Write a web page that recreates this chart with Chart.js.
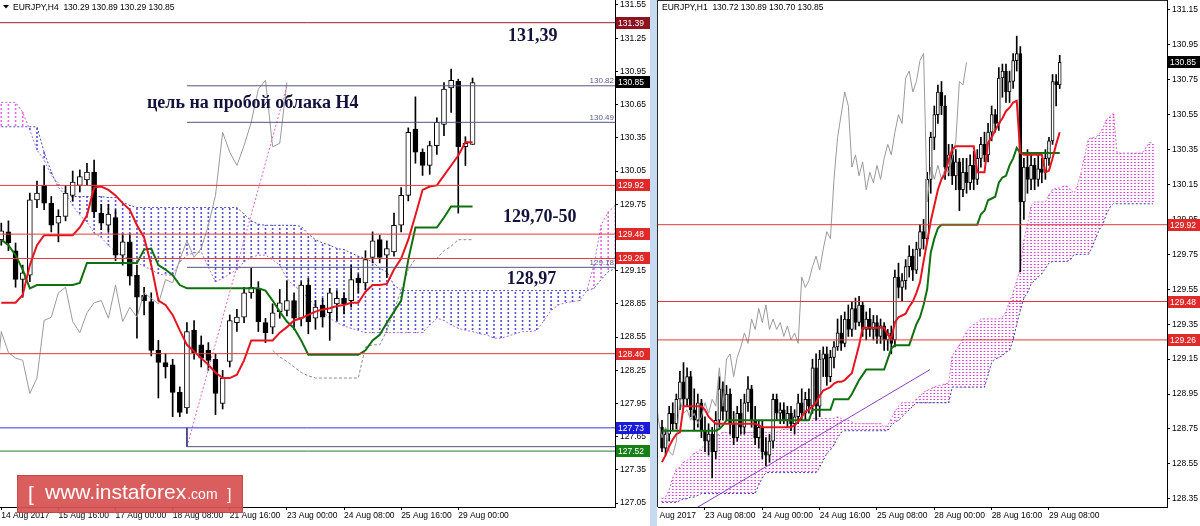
<!DOCTYPE html>
<html><head><meta charset="utf-8"><title>EURJPY H4 / H1</title>
<script src="https://cdn.jsdelivr.net/npm/chart.js@4.4.1/dist/chart.umd.min.js"></script>
<style>
html,body{margin:0;padding:0;background:#fff;}
body{width:1200px;height:526px;position:relative;overflow:hidden;}
canvas{position:absolute;top:0;}
#h4{left:0;width:650px;height:526px;}
#h1{left:650px;width:550px;height:526px;}
</style></head>
<body>
<canvas id="h4" width="650" height="526"></canvas>
<canvas id="h1" width="550" height="526"></canvas>
<script>
// ===================== H4 DATA =====================
const h4TickIdx = [0, 8, 16, 24, 32, 40, 48, 56, 64];
const h4TickLabels = ['14 Aug 2017','15 Aug 16:00','17 Aug 00:00','18 Aug 08:00','21 Aug 16:00','23 Aug 00:00','24 Aug 08:00','25 Aug 16:00','29 Aug 00:00'];
const h4YTicks = [131.55,131.25,130.95,130.65,130.35,130.05,129.75,129.45,129.15,128.85,128.55,128.25,127.95,127.65,127.35,127.05];
const h4Open = [129.43,129.50,129.33,129.07,129.11,129.79,129.92,129.76,129.58,129.64,
 129.83,129.92,129.97,130.04,129.67,129.56,129.63,129.29,129.41,129.11,
 128.93,128.87,128.43,128.32,128.30,128.05,127.91,128.61,128.48,128.43,
 128.35,127.95,128.33,128.68,128.73,128.95,128.99,128.68,128.64,128.78,
 128.79,128.88,128.72,129.02,128.72,128.84,128.77,128.85,128.90,128.88,
 129.08,129.04,129.27,129.43,129.29,129.32,129.56,129.83,130.43,130.22,
 130.10,130.28,130.47,130.80,130.86,130.27,130.29];
const h4High = [129.58,129.60,129.40,129.20,129.85,129.96,130.10,129.82,129.70,129.92,
 130.05,130.06,130.12,130.15,129.75,129.75,129.70,129.48,129.48,129.20,
 129.00,128.95,128.52,128.40,128.35,128.10,128.68,128.70,128.56,128.50,
 128.40,128.25,128.75,128.80,129.00,129.17,129.05,128.72,128.85,128.98,
 129.06,128.95,129.05,129.08,128.88,128.90,128.99,128.97,128.95,129.20,
 129.12,129.33,129.50,129.47,129.42,129.67,129.90,130.44,130.72,130.25,
 130.32,130.53,130.85,130.97,130.88,130.36,130.89];
const h4Low = [129.38,129.33,129.00,128.91,129.05,129.72,129.70,129.50,129.41,129.60,
 129.78,129.86,129.92,129.63,129.52,129.50,129.24,129.20,129.02,128.54,
 128.75,128.38,128.00,128.18,127.83,127.83,127.86,128.35,128.28,128.25,
 127.85,127.90,128.28,128.60,128.68,128.90,128.60,128.50,128.58,128.72,
 128.74,128.62,128.65,128.58,128.62,128.64,128.52,128.70,128.76,128.82,
 128.95,128.98,129.22,129.22,129.09,129.28,129.50,129.78,130.12,130.01,
 130.02,130.20,130.37,130.58,129.67,130.10,130.29];
const h4Close = [129.51,129.40,129.07,129.13,129.79,129.85,129.76,129.56,129.64,129.85,
 129.95,130.00,130.04,129.68,129.58,129.66,129.29,129.41,129.10,128.91,
 128.88,128.43,128.32,128.28,128.05,127.87,128.60,128.41,128.36,128.34,
 128.04,128.18,128.70,128.73,128.95,129.00,128.69,128.59,128.77,128.86,
 128.88,128.72,129.02,128.69,128.82,128.73,128.95,128.90,128.85,129.07,
 129.04,129.25,129.42,129.27,129.35,129.56,129.83,130.40,130.22,130.10,
 130.28,130.49,130.79,130.87,130.27,130.30,130.85];
const h4Tenkan = [128.86,128.86,128.86,128.93,129.20,129.38,129.47,129.47,129.47,129.47,
 129.47,129.54,129.65,129.90,129.91,129.88,129.83,129.76,129.70,129.56,
 129.45,129.20,128.88,128.84,128.75,128.61,128.48,128.42,128.36,128.30,
 128.23,128.18,128.18,128.21,128.34,128.52,128.52,128.52,128.52,128.59,
 128.64,128.70,128.72,128.75,128.78,128.80,128.81,128.83,128.84,128.86,
 128.86,128.96,129.02,129.02,129.03,129.16,129.26,129.43,129.65,129.88,
 129.91,129.92,130.01,130.10,130.19,130.31,130.31];
const h4Kijun = [129.43,129.38,129.29,129.16,128.99,129.02,129.02,129.02,129.02,129.02,
 129.02,129.04,129.22,129.22,129.22,129.22,129.22,129.22,129.22,129.22,
 129.34,129.35,129.20,129.16,129.11,129.02,128.99,128.99,128.99,128.99,
 128.99,128.99,128.99,128.99,128.99,128.99,128.99,128.97,128.88,128.78,
 128.69,128.63,128.52,128.39,128.39,128.39,128.39,128.39,128.39,128.39,
 128.39,128.43,128.52,128.57,128.68,128.78,128.88,129.25,129.54,129.54,
 129.54,129.54,129.63,129.73,129.73,129.73,129.73];
const h4SpanA = [130.67,130.67,130.67,130.58,130.42,130.24,130.15,130.01,129.94,129.85,
 129.74,129.65,129.59,129.49,129.45,129.38,129.32,129.28,129.26,129.22,
 129.19,129.16,129.12,129.11,129.11,129.23,129.29,129.31,129.32,129.18,
 129.05,129.08,129.12,129.16,129.23,129.27,129.29,129.29,129.25,129.20,
 129.08,129.01,128.97,128.90,128.83,128.78,128.72,128.68,128.65,128.63,
 128.61,128.59,128.59,128.59,128.59,128.59,128.59,128.59,128.59,128.59,
 128.66,128.72,128.70,128.66,128.63,128.61,128.60,128.58,128.57,128.54,
 128.54,128.56,128.58,128.60,128.60,128.61,128.70,128.79,128.84,128.86,
 128.87,128.88,128.97,129.20,129.56,129.68,129.74];
const h4SpanB = [130.45,130.45,130.45,130.45,130.45,130.45,130.22,130.04,129.90,129.83,
 129.82,129.82,129.82,129.82,129.82,129.81,129.81,129.77,129.74,129.72,
 129.72,129.72,129.72,129.72,129.72,129.72,129.72,129.72,129.72,129.72,
 129.72,129.72,129.72,129.72,129.66,129.60,129.57,129.56,129.56,129.56,
 129.56,129.56,129.55,129.48,129.43,129.40,129.38,129.35,129.34,129.31,
 129.28,129.26,129.23,129.17,129.14,129.02,128.97,128.97,128.97,128.97,
 128.97,128.97,128.97,128.97,128.97,128.97,128.97,128.97,128.97,128.97,
 128.97,128.97,128.97,128.97,128.97,128.97,128.97,128.97,128.97,128.97,
 128.97,128.97,128.97,128.99,129.07,129.14,129.17];
// gray dashed guide line (bars 38..66)
const h4GuideStart = 38;
const h4Guide = [128.43,128.37,128.33,128.28,128.23,128.20,128.18,128.18,128.18,128.18,
 128.18,128.18,128.18,128.46,128.48,128.48,128.61,128.79,128.97,129.16,
 129.26,129.26,129.26,129.26,129.33,129.37,129.43,129.43,129.43];
const h4FullLevels = [131.39, 129.92, 129.48, 129.26, 128.40, 127.73, 127.52];
const h4FiboLevels = [130.82, 130.49, 129.18, 127.56];
const h4FiboStart = 26;
const h4FiboTrendX = [26, 40];
const h4FiboTrendY = [127.56, 130.82];
const h4Tags = [131.39, 130.85, 129.92, 129.48, 129.26, 128.40, 127.73, 127.52];

// ===================== H1 DATA =====================
const h1TickIdx = [-4, 12, 28, 44, 60, 76, 92, 108];
const h1TickLabels = ['22 Aug 2017','23 Aug 08:00','24 Aug 00:00','24 Aug 16:00','25 Aug 08:00','28 Aug 00:00','28 Aug 16:00','29 Aug 08:00'];
const h1YTicks = [131.15,130.95,130.75,130.55,130.35,130.15,129.95,129.75,129.55,129.35,129.15,128.95,128.75,128.55,128.35];
const h1Open = [128.76,128.64,128.72,128.84,128.78,128.92,129.02,128.92,129.05,128.86,
 128.80,128.90,128.74,128.68,128.72,128.62,128.80,128.98,128.85,128.95,
 128.78,128.70,128.84,128.76,128.90,128.98,128.80,128.70,128.76,128.62,
 128.60,128.68,128.92,128.84,128.86,128.80,128.84,128.78,128.82,128.90,
 128.84,128.92,128.88,129.10,128.88,129.15,129.18,129.05,129.16,129.22,
 129.30,129.24,129.38,129.32,129.44,129.36,129.46,129.32,129.38,129.32,
 129.36,129.28,129.34,129.26,129.30,129.26,129.62,129.56,129.60,129.68,
 129.74,129.66,129.78,129.88,129.84,130.18,130.42,130.55,130.68,130.60,
 130.25,130.32,130.20,130.28,130.12,130.22,130.16,130.26,130.18,130.30,
 130.38,130.32,130.45,130.55,130.50,130.76,130.80,130.68,130.74,130.86,
 130.90,130.05,130.25,130.18,130.26,130.18,130.24,130.22,130.30,130.40,130.74,130.72];
const h1High = [128.80,128.75,128.88,128.90,128.95,129.08,129.13,129.10,129.08,128.98,
 128.95,128.92,128.82,128.78,128.76,128.85,129.05,129.02,129.00,128.98,
 128.85,128.88,128.92,128.95,129.05,129.00,128.88,128.80,128.80,128.70,
 128.72,128.95,128.95,128.90,128.90,128.88,128.88,128.86,128.95,128.98,
 128.96,128.98,129.15,129.18,129.20,129.22,129.22,129.20,129.25,129.38,
 129.40,129.42,129.46,129.48,129.50,129.51,129.48,129.42,129.44,129.40,
 129.40,129.38,129.36,129.32,129.34,129.66,129.70,129.64,129.72,129.80,
 129.78,129.82,129.92,129.95,130.22,130.45,130.60,130.72,130.74,130.66,
 130.38,130.38,130.35,130.30,130.30,130.30,130.32,130.34,130.35,130.42,
 130.45,130.50,130.60,130.58,130.82,130.84,130.84,130.80,130.90,131.00,
 130.94,130.30,130.35,130.32,130.30,130.32,130.30,130.35,130.42,130.78,130.78,130.89];
const h1Low = [128.62,128.60,128.68,128.74,128.75,128.86,128.88,128.88,128.82,128.74,
 128.76,128.70,128.62,128.60,128.47,128.58,128.76,128.80,128.80,128.72,
 128.66,128.68,128.72,128.72,128.85,128.76,128.66,128.64,128.58,128.54,
 128.56,128.64,128.80,128.78,128.78,128.76,128.74,128.72,128.78,128.80,
 128.80,128.84,128.84,128.80,128.82,129.05,129.00,129.02,129.10,129.20,
 129.20,129.22,129.28,129.28,129.32,129.34,129.28,129.26,129.28,129.26,
 129.24,129.24,129.20,129.20,129.18,129.22,129.50,129.48,129.55,129.62,
 129.60,129.64,129.74,129.78,129.82,130.10,130.35,130.50,130.55,130.18,
 130.20,130.15,130.12,130.00,130.08,130.10,130.12,130.12,130.15,130.25,
 130.28,130.28,130.40,130.45,130.46,130.65,130.62,130.62,130.70,130.80,
 129.65,129.95,130.10,130.12,130.12,130.14,130.16,130.18,130.26,130.38,130.60,130.70];
const h1Close = [128.64,128.72,128.84,128.78,128.92,129.02,128.92,129.05,128.86,128.80,
 128.90,128.74,128.68,128.72,128.62,128.80,128.98,128.85,128.95,128.78,
 128.70,128.84,128.76,128.90,128.98,128.80,128.70,128.76,128.62,128.60,
 128.68,128.92,128.84,128.86,128.80,128.84,128.78,128.82,128.90,128.84,
 128.92,128.88,129.10,128.88,129.15,129.18,129.05,129.16,129.22,129.30,
 129.24,129.38,129.32,129.44,129.36,129.46,129.32,129.38,129.32,129.36,
 129.28,129.34,129.26,129.30,129.24,129.62,129.56,129.60,129.68,129.74,
 129.66,129.78,129.88,129.84,130.18,130.42,130.55,130.68,130.60,130.25,
 130.32,130.20,130.28,130.12,130.22,130.16,130.26,130.18,130.30,130.38,
 130.32,130.45,130.55,130.50,130.76,130.80,130.68,130.74,130.86,130.90,
 130.05,130.25,130.18,130.26,130.18,130.24,130.22,130.30,130.40,130.74,130.72,130.85];
const h1Tenkan = [128.56,128.60,128.65,128.69,128.72,128.73,128.88,128.88,128.88,128.88,
 128.88,128.88,128.86,128.82,128.80,128.78,128.78,128.78,128.78,128.78,
 128.78,128.78,128.78,128.78,128.78,128.78,128.78,128.77,128.76,128.76,
 128.76,128.76,128.76,128.76,128.76,128.76,128.76,128.77,128.79,128.82,
 128.85,128.86,128.88,128.90,128.94,128.97,128.98,128.99,129.01,129.02,
 129.02,129.03,129.05,129.07,129.15,129.23,129.33,129.33,129.33,129.33,
 129.33,129.33,129.33,129.29,129.27,129.36,129.39,129.40,129.41,129.45,
 129.48,129.53,129.59,129.71,129.82,129.94,130.03,130.12,130.18,130.21,
 130.29,130.35,130.37,130.37,130.37,130.37,130.37,130.37,130.22,130.22,
 130.22,130.39,130.42,130.46,130.50,130.53,130.57,130.59,130.62,130.63,
 130.33,130.32,130.32,130.32,130.32,130.32,130.32,130.22,130.23,130.30,130.38,130.45];
const h1Kijun = [128.74,128.74,128.74,128.74,128.74,128.74,128.74,128.74,128.74,128.74,
 128.74,128.74,128.74,128.74,128.74,128.74,128.75,128.77,128.80,128.80,
 128.80,128.80,128.80,128.80,128.80,128.80,128.80,128.80,128.80,128.80,
 128.80,128.80,128.80,128.80,128.80,128.80,128.80,128.80,128.80,128.80,
 128.80,128.80,128.86,128.86,128.86,128.86,128.86,128.86,128.92,128.92,
 128.92,128.92,128.92,128.95,128.99,129.03,129.06,129.09,129.09,129.09,
 129.09,129.09,129.09,129.15,129.21,129.23,129.23,129.23,129.23,129.23,
 129.29,129.35,129.39,129.46,129.55,129.76,129.84,129.90,129.92,129.92,
 129.92,129.92,129.92,129.92,129.92,129.92,129.92,129.92,129.92,129.98,
 130.00,130.06,130.07,130.08,130.16,130.19,130.20,130.26,130.30,130.36,
 130.33,130.33,130.33,130.33,130.33,130.33,130.33,130.33,130.33,130.33,130.33,130.33];
const h1SpanA = [128.35,128.36,128.40,128.47,128.52,128.53,128.56,128.57,128.59,128.61,
 128.62,128.64,128.66,128.68,128.70,128.71,128.72,128.73,128.73,128.73,
 128.73,128.73,128.73,128.73,128.73,128.73,128.73,128.73,128.73,128.73,
 128.73,128.73,128.73,128.74,128.76,128.76,128.77,128.78,128.79,128.80,
 128.81,128.81,128.81,128.81,128.81,128.81,128.81,128.81,128.81,128.82,
 128.81,128.80,128.80,128.79,128.78,128.78,128.78,128.78,128.78,128.78,
 128.78,128.78,128.76,128.77,128.81,128.85,128.88,128.90,128.90,128.90,
 128.90,128.92,128.94,128.96,128.97,128.98,128.99,129.00,129.00,129.01,
 129.01,129.17,129.20,129.23,129.27,129.31,129.33,129.35,129.36,129.38,
 129.38,129.38,129.38,129.38,129.38,129.39,129.42,129.48,129.53,129.60,
 129.67,129.83,129.92,130.03,130.05,130.05,130.05,130.05,130.09,130.12,
 130.13,130.13,130.14,130.14,130.12,130.10,130.15,130.22,130.32,130.41,
 130.42,130.42,130.44,130.47,130.52,130.54,130.56,130.33,130.33,130.33,
 130.33,130.33,130.33,130.33,130.33,130.36,130.39,130.39];
const h1SpanB = [128.33,128.33,128.33,128.33,128.33,128.34,128.35,128.35,128.36,128.36,
 128.37,128.38,128.38,128.38,128.38,128.38,128.38,128.38,128.38,128.38,
 128.38,128.38,128.38,128.38,128.38,128.38,128.38,128.43,128.47,128.50,
 128.50,128.50,128.50,128.50,128.50,128.50,128.50,128.50,128.50,128.50,
 128.50,128.50,128.50,128.50,128.53,128.57,128.61,128.63,128.66,128.70,
 128.73,128.74,128.74,128.74,128.74,128.74,128.74,128.74,128.74,128.74,
 128.74,128.74,128.74,128.74,128.77,128.79,128.80,128.82,128.84,128.86,
 128.88,128.90,128.90,128.90,128.90,128.90,128.90,128.90,128.90,128.90,
 128.90,128.99,128.99,128.99,128.99,128.99,128.99,128.99,128.99,128.99,
 128.99,129.06,129.13,129.15,129.16,129.17,129.19,129.20,129.26,129.35,
 129.43,129.50,129.53,129.58,129.60,129.62,129.64,129.67,129.70,129.71,
 129.71,129.71,129.71,129.71,129.72,129.75,129.75,129.75,129.75,129.75,
 129.79,129.84,129.89,129.92,129.98,130.02,130.04,130.04,130.04,130.04,
 130.04,130.04,130.04,130.04,130.04,130.04,130.04,130.04];
const h1FullLevels = [129.92, 129.48, 129.26];
const h1TrendX = [9.8, 74.8];
const h1TrendY = [128.30, 129.09];
const h1Tags = [130.85, 129.92, 129.48, 129.26];

// ===================== VIEW CONFIG =====================
const H4VIEW = {xMin: -0.18, xMax: 85.95, yMin: 127.015, yMax: 131.595};
const H1VIEW = {xMin: -1.116, xMax: 140.94, yMin: 128.303, yMax: 131.207};
const FONT = '"Liberation Sans", Arial, sans-serif';
const NOTE_FONT = 'bold 18px "Liberation Serif", "Times New Roman", serif';
const NOTE_COLOR = '#12123c';
const h4Notes = [
  {text: '131,39', at: [70.97, 131.27]},
  {text: 'цель на пробой облака H4', at: [20.4, 130.665]},
  {text: '129,70-50', at: [70.27, 129.635]},
  {text: '128,97', at: [70.8, 129.075]}
];
const LEVEL_COLOR = {'131.39':'#9e1b32','129.92':'#e23a3a','129.48':'#e23a3a','129.26':'#e23a3a','128.40':'#e23a3a','127.73':'#3535f0','127.52':'#2b7a2b'};
const TAG_BG = {'131.39':'#8c1421','130.85':'#000000','129.92':'#e02a2a','129.48':'#e02a2a','129.26':'#e02a2a','128.40':'#e02a2a','127.73':'#1a1ad8','127.52':'#168016'};

// ===================== HELPERS =====================
function hatch(color, on, period) {
  const c = document.createElement('canvas');
  c.width = 1; c.height = period;
  const g = c.getContext('2d');
  g.fillStyle = color; g.fillRect(0, 0, 1, on);
  return g.createPattern(c, 'repeat');
}
function lineSet(values, color, width, order, dash, shift) {
  return {type: 'line', data: values.map((v, i) => ({x: i + (shift || 0), y: v})),
    borderColor: color, borderWidth: width, borderDash: dash || [], pointRadius: 0,
    pointHoverRadius: 0, fill: false, tension: 0, order: order};
}
function segSet(xs, ys, color, width, order, dash) {
  return {type: 'line', data: xs.map((x, k) => ({x: x, y: ys[k]})),
    borderColor: color, borderWidth: width, borderDash: dash || [], pointRadius: 0,
    pointHoverRadius: 0, fill: false, tension: 0, order: order};
}
function candleSets(O, H, L, C, bodyW) {
  const idx = O.map((_, i) => i);
  return [
    {type: 'bar', data: idx.map(i => ({x: i, y: [L[i], H[i]]})), backgroundColor: '#000',
      borderWidth: 0, barThickness: 1, grouped: false, order: 6},
    {type: 'bar', data: idx.map(i => ({x: i, y: [Math.min(O[i], C[i]), Math.max(O[i], C[i])]})),
      backgroundColor: idx.map(i => C[i] >= O[i] ? '#ffffff' : '#000000'),
      borderColor: '#000', borderWidth: 1, borderSkipped: false, barThickness: bodyW,
      grouped: false, order: 5}
  ];
}
function cloudSet(A, B, upPat, downPat) {
  const idx = A.map((_, i) => i);
  return {type: 'bar', data: idx.map(i => ({x: i, y: [Math.min(A[i], B[i]), Math.max(A[i], B[i])]})),
    backgroundColor: idx.map(i => A[i] >= B[i] ? upPat : downPat),
    borderWidth: 0, barThickness: 1, grouped: false, order: 12};
}
function scalesFor(view, tickIdx, tickLabels, yTicks, yWidth) {
  const tickFont = {family: FONT, size: 8.5};
  return {
    x: {type: 'linear', position: 'bottom', min: view.xMin, max: view.xMax, offset: false,
      grid: {display: true, drawOnChartArea: false, drawTicks: true, tickLength: 3, color: '#000', offset: false},
      border: {display: true, color: '#000', width: 1},
      ticks: {autoSkip: false, maxRotation: 0, minRotation: 0, align: 'start', padding: 1,
        font: tickFont, color: '#000', callback: (v, i) => tickLabels[i]},
      afterBuildTicks: s => { s.ticks = tickIdx.map(v => ({value: v})); },
      afterFit: s => { s.height = 19; s.paddingLeft = 0; s.paddingRight = 0; s.paddingTop = 0; s.paddingBottom = 0; }
    },
    y: {type: 'linear', position: 'right', min: view.yMin, max: view.yMax,
      grid: {display: true, drawOnChartArea: false, drawTicks: true, tickLength: 3, color: '#000'},
      border: {display: true, color: '#000', width: 1},
      ticks: {autoSkip: false, padding: 2, font: tickFont, color: '#000', callback: v => Number(v).toFixed(2)},
      afterBuildTicks: s => { s.ticks = yTicks.map(v => ({value: v})); },
      afterFit: s => { s.width = yWidth; s.paddingTop = 0; s.paddingBottom = 0; }
    }
  };
}
function drawTag(ctx, left, yPix, v, w) {
  const key = v.toFixed(2);
  const yy = Math.round(yPix);
  ctx.fillStyle = TAG_BG[key];
  ctx.fillRect(left, yy - 6, w, 12);
  ctx.fillStyle = '#fff';
  ctx.font = '8.5px ' + FONT;
  ctx.textAlign = 'left'; ctx.textBaseline = 'middle';
  ctx.fillText(key, left + 2, yy + 0.5);
}
function header(ctx, x, text) {
  ctx.font = '8.5px ' + FONT;
  ctx.fillStyle = '#000'; ctx.textAlign = 'left'; ctx.textBaseline = 'middle';
  ctx.fillText(text, x, 7.5);
}
const baseOptions = {
  responsive: false, animation: false, events: [], devicePixelRatio: 1,
  plugins: {legend: {display: false}, tooltip: {enabled: false}}
};

// ===================== H4 CHART =====================
(function () {
  const last = h4Close.length - 1;
  const ds = [];
  ds.push(cloudSet(h4SpanA, h4SpanB, hatch('#e06ee0', 2, 4), hatch('#5656d2', 2, 4)));
  ds.push(lineSet(h4SpanA, '#b66ad2', 1, 10, [2, 2]));
  ds.push(lineSet(h4SpanB, '#4b4bb8', 1, 11, [2, 2]));
  ds.push(lineSet(h4Guide, '#8c8c8c', 1, 9, [3, 2], h4GuideStart));
  ds.push(...candleSets(h4Open, h4High, h4Low, h4Close, 5));
  ds.push(lineSet(h4Close, '#9a9a9a', 1, 4, [], -26));
  ds.push(lineSet(h4Kijun, '#107010', 2, 3));
  ds.push(lineSet(h4Tenkan, '#e5141e', 2, 2));
  h4FullLevels.forEach(v => ds.push(segSet([H4VIEW.xMin, H4VIEW.xMax], [v, v], LEVEL_COLOR[v.toFixed(2)], 1, 0)));
  h4FiboLevels.forEach(v => ds.push(segSet([h4FiboStart, H4VIEW.xMax], [v, v], '#55557a', 1, 0)));
  ds.push(segSet([h4FiboStart, h4FiboStart], [127.73, h4FiboLevels[3]], '#3a3a80', 1, 0));
  ds.push(segSet(h4FiboTrendX, h4FiboTrendY, '#e063c0', 1, 1, [2, 2]));

  const overlay = {
    id: 'h4overlay',
    afterDraw(chart) {
      const {ctx, chartArea: ca, scales: {x, y}} = chart;
      ctx.save();
      ctx.font = '8px ' + FONT; ctx.fillStyle = '#5a5a96';
      ctx.textAlign = 'right'; ctx.textBaseline = 'bottom';
      h4FiboLevels.slice(0, 3).forEach(v => ctx.fillText(v.toFixed(2), ca.right - 1, y.getPixelForValue(v) - 1));
      h4Tags.forEach(v => drawTag(ctx, ca.right + 1, y.getPixelForValue(v), v, 34));
      ctx.font = NOTE_FONT; ctx.fillStyle = NOTE_COLOR; ctx.textAlign = 'left'; ctx.textBaseline = 'middle';
      h4Notes.forEach(n => ctx.fillText(n.text, x.getPixelForValue(n.at[0]), y.getPixelForValue(n.at[1])));
      ctx.fillStyle = '#000';
      ctx.beginPath(); ctx.moveTo(3, 5); ctx.lineTo(9, 5); ctx.lineTo(6, 8.5); ctx.closePath(); ctx.fill();
      header(ctx, 13, 'EURJPY,H4  ' + [h4Open[last], h4High[last], h4Low[last], h4Close[last]].map(v => v.toFixed(2)).join(' '));
      // watermark
      ctx.fillStyle = 'rgba(216,82,82,0.93)';
      ctx.fillRect(17, 475, 226, 38);
      ctx.strokeStyle = 'rgba(170,60,60,0.6)'; ctx.lineWidth = 1;
      ctx.strokeRect(17.5, 475.5, 225, 37);
      ctx.fillStyle = '#fff'; ctx.textBaseline = 'alphabetic'; ctx.textAlign = 'left';
      ctx.font = '21px ' + FONT; ctx.fillText('[', 28, 501);
      ctx.fillText('www.instaforex', 45, 499);
      const w = ctx.measureText('www.instaforex').width;
      ctx.font = '14px ' + FONT; ctx.fillText('.com', 45 + w + 1, 499);
      ctx.font = '16px ' + FONT; ctx.fillText(']', 227, 500);
      ctx.restore();
    }
  };
  new Chart(document.getElementById('h4'), {
    type: 'bar',
    data: {datasets: ds},
    options: Object.assign({}, baseOptions, {
      layout: {padding: 0},
      scales: scalesFor(H4VIEW, h4TickIdx, h4TickLabels, h4YTicks, 35)
    }),
    plugins: [overlay]
  });
})();

// ===================== H1 CHART =====================
(function () {
  const last = h1Close.length - 1;
  const ds = [];
  ds.push(cloudSet(h1SpanA, h1SpanB, hatch('#d93ad9', 1, 3), hatch('#6060d0', 1, 3)));
  ds.push(lineSet(h1SpanA, '#d36ad3', 1, 10, [2, 2]));
  ds.push(lineSet(h1SpanB, '#3a3a9c', 1, 11, [2, 2]));
  ds.push(...candleSets(h1Open, h1High, h1Low, h1Close, 3));
  ds.push(lineSet(h1Close, '#9a9a9a', 1, 4, [], -26));
  ds.push(lineSet(h1Kijun, '#107010', 2, 3));
  ds.push(lineSet(h1Tenkan, '#e5141e', 2, 2));
  h1FullLevels.forEach(v => ds.push(segSet([H1VIEW.xMin, H1VIEW.xMax], [v, v], LEVEL_COLOR[v.toFixed(2)], 1, 0)));
  ds.push(segSet(h1TrendX, h1TrendY, '#8a3fc6', 1, 1));

  const overlay = {
    id: 'h1overlay',
    afterDraw(chart) {
      const {ctx, chartArea: ca, scales: {y}} = chart;
      ctx.save();
      h1Tags.forEach(v => drawTag(ctx, ca.right + 1, y.getPixelForValue(v), v, 32));
      ctx.fillStyle = '#c6dbf2';
      ctx.fillRect(0, 0, 7, 526);
      ctx.strokeStyle = '#2a2a2a'; ctx.lineWidth = 1;
      ctx.beginPath(); ctx.moveTo(7.5, 0); ctx.lineTo(7.5, ca.bottom); ctx.stroke();
      ctx.beginPath(); ctx.moveTo(7, 0.5); ctx.lineTo(ca.right, 0.5); ctx.stroke();
      header(ctx, 12, 'EURJPY,H1  ' + [h1Open[last], h1High[last], h1Low[last], h1Close[last]].map(v => v.toFixed(2)).join(' '));
      ctx.restore();
    }
  };
  new Chart(document.getElementById('h1'), {
    type: 'bar',
    data: {datasets: ds},
    options: Object.assign({}, baseOptions, {
      layout: {padding: {left: 8, right: 0, top: 0, bottom: 0}},
      scales: scalesFor(H1VIEW, h1TickIdx, h1TickLabels, h1YTicks, 33)
    }),
    plugins: [overlay]
  });
})();
</script>
</body></html>
